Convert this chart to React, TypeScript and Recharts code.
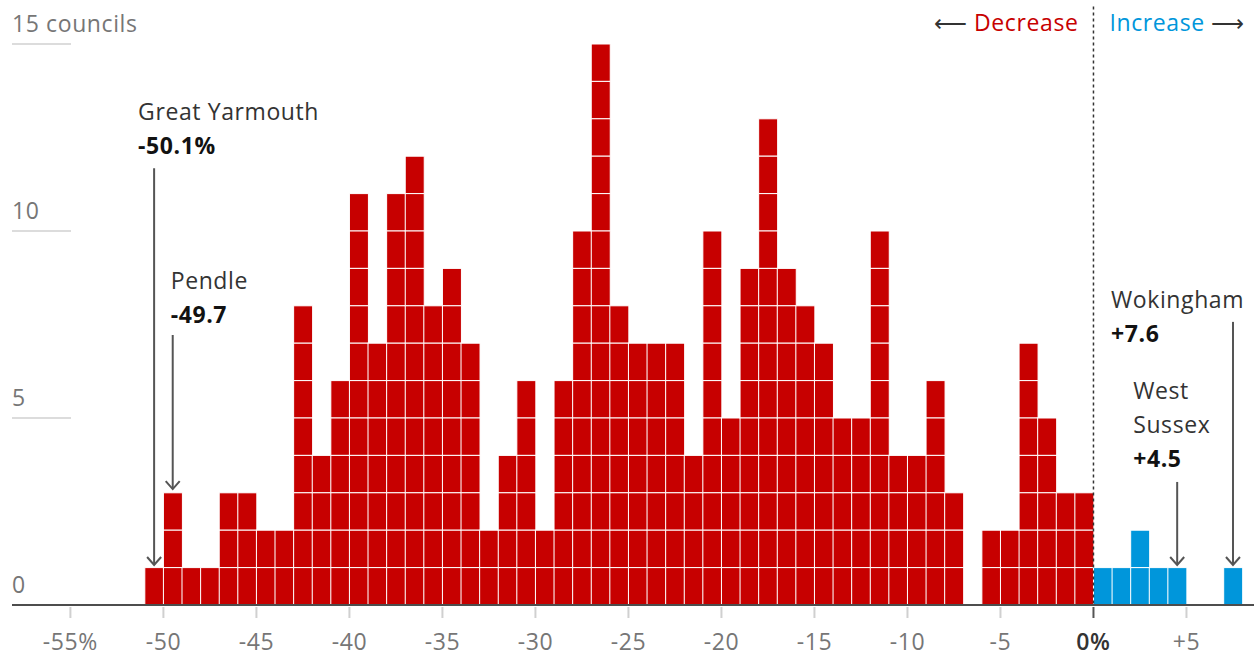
import { ComposedChart, Bar, XAxis, YAxis, ReferenceLine } from 'recharts';

// left edge of each 1-point bin, and number of councils in it
const binStarts = [
    -51, -50, -49, -48, -47, -46, -45, -44, -43, -42, -41, -40, -39, -38, -37, -36, -35, -34, -33, -32,
    -31, -30, -29, -28, -27, -26, -25, -24, -23, -22, -21, -20, -19, -18, -17, -16, -15, -14, -13, -12,
    -11, -10, -9, -8, -7, -6, -5, -4, -3, -2, -1, 0, 1, 2, 3, 4, 5, 6, 7,
];
const councilCounts = [
    1, 3, 1, 1, 3, 3, 2, 2, 8, 4, 6, 11, 7, 11, 12, 8, 9, 7, 2, 4,
    6, 2, 6, 10, 15, 8, 7, 7, 7, 4, 10, 5, 9, 13, 9, 8, 7, 5, 5, 10,
    4, 4, 6, 3, 0, 2, 2, 7, 5, 3, 3, 1, 1, 2, 1, 1, 0, 0, 1,
];

const xTicks = [-55, -50, -45, -40, -35, -30, -25, -20, -15, -10, -5, 0, 5];
const xTickLabels = ['-55%', '-50', '-45', '-40', '-35', '-30', '-25', '-20', '-15', '-10', '-5', '0%', '+5'];
const yTicks = [0, 5, 10, 15];
const yTickLabels = ['0', '5', '10', '15 councils'];

const calloutNames = [['Great Yarmouth'], ['Pendle'], ['Wokingham'], ['West', 'Sussex']];
const calloutValues = ['-50.1%', '-49.7', '+7.6', '+4.5'];
const calloutBins = [-51, -50, 7, 4];

// layout of the callouts: arrow start (in councils), arrow tip, text offsets from arrow top
const calloutLayout = [
    { from: 11.68, to: 1.07, dx: -16, dy: -14 },
    { from: 7.22, to: 3.1, dx: -2, dy: -12 },
    { from: 7.57, to: 1.07, dx: -122, dy: 20 },
    { from: 3.29, to: 1.07, dx: -44, dy: -15 },
];

const RED = '#c70000';
const BLUE = '#0096db';
const FONT = "'Open Sans', sans-serif";
const FS = 23;
const LS = 0.6;

const data = binStarts.map((start, i) => ({ start, mid: start + 0.5, count: councilCounts[i] }));

const UnitBar = (props: any) => {
    const { x, y, width, height, payload } = props;
    const n = payload.count;
    if (!n || !height) return null;
    const unit = height / n;
    const color = payload.start < 0 ? RED : BLUE;
    return (
        <g>
            {Array.from({ length: n }, (_, i) => (
                <rect key={i} x={x} y={y + i * unit} width={width} height={unit} fill={color} stroke="#fff" strokeWidth={1} />
            ))}
        </g>
    );
};

const YTick = (props: any) => {
    const { x, y, payload } = props;
    const label = yTickLabels[yTicks.indexOf(payload.value)];
    return (
        <g>
            {payload.value !== 0 && <line x1={x} x2={x + 59} y1={y} y2={y} stroke="#dcdcdc" strokeWidth={2} />}
            <text x={x} y={y - 12} fill="#767676" fontSize={FS} letterSpacing={LS} fontFamily={FONT} textAnchor="start">
                {label}
            </text>
        </g>
    );
};

const XTick = (props: any) => {
    const { x, y, payload } = props;
    const zero = payload.value === 0;
    const label = xTickLabels[xTicks.indexOf(payload.value)];
    return (
        <g>
            <line x1={x} x2={x} y1={y + 2} y2={y + 13} stroke={zero ? '#555' : '#d0d0d0'} strokeWidth={2} />
            <text
                x={x}
                y={y + 45}
                textAnchor="middle"
                fill={zero ? '#333' : '#767676'}
                fontSize={FS}
                letterSpacing={LS}
                fontFamily={FONT}
                fontWeight={zero ? 600 : 400}
            >
                {label}
            </text>
        </g>
    );
};

const Divider = (props: any) => {
    const { x1, y1, y2 } = props;
    const top = Math.min(y1, y2);
    const bottom = Math.max(y1, y2);
    return (
        <g fontFamily={FONT} fontSize={FS} letterSpacing={LS}>
            <line x1={x1} x2={x1} y1={top} y2={bottom} stroke="#333" strokeWidth={1.5} strokeDasharray="3 3" />
            <text x={x1 - 15} y={top + 24} textAnchor="end">
                <tspan fill="#333">⟵ </tspan>
                <tspan fill={RED}>Decrease</tspan>
            </text>
            <text x={x1 + 16} y={top + 24}>
                <tspan fill={BLUE}>Increase</tspan>
                <tspan fill="#333"> ⟶</tspan>
            </text>
        </g>
    );
};

const makeCallout = (idx: number) => (props: any) => {
    const { x1, y1, y2 } = props;
    const top = Math.min(y1, y2);
    const tip = Math.max(y1, y2);
    const { dx, dy } = calloutLayout[idx];
    const lines = [...calloutNames[idx], calloutValues[idx]];
    return (
        <g fontFamily={FONT} fontSize={FS} letterSpacing={LS}>
            <line x1={x1} x2={x1} y1={top} y2={tip} stroke="#555" strokeWidth={2} />
            <polyline points={`${x1 - 7},${tip - 8} ${x1},${tip} ${x1 + 7},${tip - 8}`} fill="none" stroke="#555" strokeWidth={2} />
            {lines.map((t, i) => (
                <text
                    key={i}
                    x={x1 + dx}
                    y={top + dy - (lines.length - 1 - i) * 34}
                    fill={i === lines.length - 1 ? '#121212' : '#333'}
                    fontWeight={i === lines.length - 1 ? 700 : 400}
                >
                    {t}
                </text>
            ))}
        </g>
    );
};

export default function App() {
    return (
        <div style={{ position: 'absolute', left: 0, top: 0, width: 1254, height: 657, background: '#fff' }}>
            <ComposedChart
                width={1254}
                height={657}
                data={data}
                margin={{ top: 44, right: 0, bottom: 0, left: 11 }}
                barCategoryGap={0}
                barGap={0}
            >
                <XAxis
                    dataKey="mid"
                    type="number"
                    domain={[-58.14, 8.63]}
                    allowDataOverflow
                    ticks={xTicks}
                    interval={0}
                    tick={<XTick />}
                    tickLine={false}
                    tickSize={0}
                    tickMargin={0}
                    axisLine={{ stroke: '#4d4d4d', strokeWidth: 2 }}
                    height={52}
                />
                <YAxis
                    type="number"
                    domain={[0, 15]}
                    allowDataOverflow
                    ticks={yTicks}
                    interval={0}
                    tick={<YTick />}
                    tickLine={false}
                    tickSize={0}
                    tickMargin={0}
                    axisLine={false}
                    width={1}
                />
                <Bar dataKey="count" shape={UnitBar} isAnimationActive={false} />
                <ReferenceLine
                    segment={[{ x: 0, y: 0 }, { x: 0, y: 16 }]}
                    ifOverflow="visible"
                    shape={Divider}
                />
                {calloutBins.map((bin, i) => (
                    <ReferenceLine
                        key={i}
                        segment={[{ x: bin + 0.5, y: calloutLayout[i].from }, { x: bin + 0.5, y: calloutLayout[i].to }]}
                        ifOverflow="visible"
                        shape={makeCallout(i)}
                    />
                ))}
            </ComposedChart>
        </div>
    );
}
